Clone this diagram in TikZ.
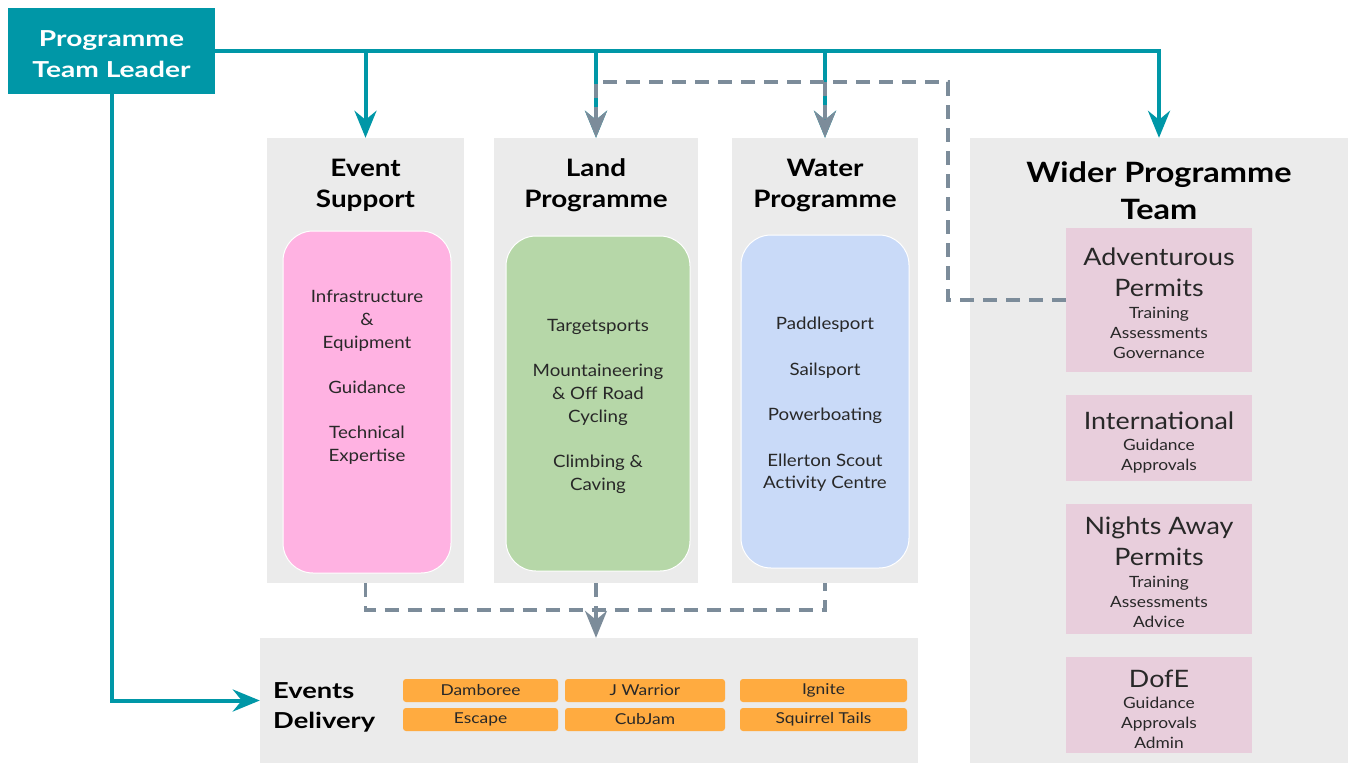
\documentclass[tikz,border=0pt]{standalone}
\usepackage{fontspec}
\setmainfont{Lato}
\newfontfamily\listfont{Lato}[FakeStretch=1.1]
\newfontfamily\headfont{Lato}[FakeStretch=1.16]
\newfontfamily\leadfont{Lato}[FakeStretch=1.28]
\newfontfamily\deliveryfont{Lato}[FakeStretch=1.24]
\newfontfamily\orangefont{Lato}[FakeStretch=1.16]
\newfontfamily\permitfont{Lato}[FakeStretch=1.12]
\usetikzlibrary{arrows.meta,positioning}

\definecolor{leadteal}{RGB}{0,151,167}
\definecolor{linkgrey}{RGB}{124,140,154}
\definecolor{panelgrey}{RGB}{235,235,235}
\definecolor{eventpink}{RGB}{255,178,226}
\definecolor{landgreen}{RGB}{182,215,168}
\definecolor{waterblue}{RGB}{201,218,248}
\definecolor{widermauve}{RGB}{232,206,220}
\definecolor{eventorange}{RGB}{255,171,64}
\definecolor{inktext}{RGB}{40,40,40}

\tikzset{
	panel/.style={fill=panelgrey, inner sep=0pt},
	teambox/.style={rounded corners=30pt, draw=white, line width=1pt, inner sep=0pt},
	permitbox/.style={fill=widermauve, inner sep=0pt, minimum width=186pt},
	eventbox/.style={fill=eventorange, rounded corners=3pt, inner sep=0pt, minimum height=23pt,
		font=\orangefont\fontsize{15}{18}\selectfont, text=inktext},
	heading/.style={align=center, yshift=-2pt, font=\headfont\bfseries\fontsize{24}{31}\selectfont},
	listtext/.style={align=center, yshift=-2pt, text=inktext, font=\listfont\fontsize{17}{22.7}\selectfont},
	bigtext/.style={align=center, yshift=-1pt, text=inktext, font=\permitfont\fontsize{24}{31}\selectfont},
	smalltext/.style={align=center, yshift=-1pt, text=inktext, font=\permitfont\fontsize{15.5}{20}\selectfont},
	tealline/.style={draw=leadteal, line width=4pt, -{Stealth[length=27pt,width=22pt,inset=9pt]}},
	greyline/.style={draw=linkgrey, line width=3.5pt, dash pattern=on 14pt off 9pt},
	greyarrow/.style={greyline, -{Stealth[length=27pt,width=22pt,inset=9pt]}}
}

\begin{document}
\begin{tikzpicture}[x=1pt,y=-1pt]
	\useasboundingbox (0,0) rectangle (1354,763);
	\node[panel, minimum width=197pt, minimum height=445pt] (es) at (365.5,360.5) {};
	\node[panel, minimum width=204pt, minimum height=445pt] (land) at (596,360.5) {};
	\node[panel, minimum width=186pt, minimum height=445pt] (water) at (825,360.5) {};
	\node[panel, minimum width=378pt, minimum height=625pt] (wider) at (1159,450.5) {};
	\node[panel, minimum width=658pt, minimum height=125pt] (ev) at (589,700.5) {};
	\node[fill=leadteal, inner sep=0pt, minimum width=207pt, minimum height=86pt] (lead) at (111.5,51) {};
	\node[heading, text=white, font=\leadfont\bfseries\fontsize{22}{31}\selectfont] at (111.5,52) {Programme\\Team Leader};

	\node[heading] (estitle) at (365.5,183.5) {Event\\Support};
	\node[heading] (landtitle) at (596,183.5) {Land\\Programme};
	\node[heading] (watertitle) at (825,183.5) {Water\\Programme};
	\node[heading, font=\headfont\bfseries\fontsize{28}{37}\selectfont] (widertitle) at (1159,188.5) {Wider Programme\\Team};
	\node[heading, align=left, anchor=west, inner sep=0pt, font=\deliveryfont\bfseries\fontsize{22}{30}\selectfont] (evtitle) at (273,705) {Events\\Delivery};

	\node[teambox, fill=eventpink, minimum width=168pt, minimum height=342pt] (espink) at (367,402) {};
	\node[teambox, fill=landgreen, minimum width=184pt, minimum height=335pt] (landgreen) at (598,403.5) {};
	\node[teambox, fill=waterblue, minimum width=168pt, minimum height=333pt] (waterblue) at (825,401.5) {};
	\node[listtext] at (367,375.5) {Infrastructure\\\&\\Equipment\\[22.7pt]Guidance\\[22.7pt]Technical\\Expertise};
	\node[listtext] at (598,404.5) {Targetsports\\[22.7pt]Mountaineering\\\& Off Road\\Cycling\\[22.7pt]Climbing \&\\Caving};
	\node[listtext] at (825,402.5) {Paddlesport\\[22.7pt]Sailsport\\[22.7pt]Powerboating\\[22.7pt]Ellerton Scout\\Activity Centre};

	\node[eventbox, minimum width=155pt] (damboree) at (480.5,690.5) {Damboree};
	\node[eventbox, minimum width=160pt] (jwarrior) at (645,690.5) {J Warrior};
	\node[eventbox, minimum width=167pt] (ignite) at (823.5,690.5) {Ignite};
	\node[eventbox, minimum width=155pt] (escape) at (480.5,719.5) {Escape};
	\node[eventbox, minimum width=160pt] (cubjam) at (645,719.5) {CubJam};
	\node[eventbox, minimum width=167pt] (squirrel) at (823.5,719.5) {Squirrel Tails};

	\node[permitbox, minimum height=144pt] (adv) at (1159,300) {};
	\node[permitbox, minimum height=86pt] (intl) at (1159,438) {};
	\node[permitbox, minimum height=130pt] (nights) at (1159,569) {};
	\node[permitbox, minimum height=96pt] (dofe) at (1159,705) {};
	\node[bigtext] at (1159,271.5) {Adventurous\\Permits};
	\node[smalltext] at (1159,332) {Training\\Assessments\\Governance};
	\node[bigtext] at (1159,420) {International};
	\node[smalltext] at (1159,455) {Guidance\\Approvals};
	\node[bigtext] at (1159,540.5) {Nights Away\\Permits};
	\node[smalltext] at (1159,601) {Training\\Assessments\\Advice};
	\node[bigtext] at (1159,678) {DofE};
	\node[smalltext] at (1159,722) {Guidance\\Approvals\\Admin};

	% leader lines
	\draw[tealline] (lead.east) -| (wider.north);
	\draw[tealline] (lead.east -| es.north) -- (es.north);
	\draw[tealline] (lead.east -| land.north) -- (land.north);
	\draw[tealline] (lead.east -| water.north) -- (water.north);
	\draw[tealline] (lead.south) |- (ev.west);

	% dashed links
	\coordinate (advbend) at (948,82);
	\draw[greyarrow] (adv.west) -| (advbend) -| (land.north);
	\draw[greyarrow] (advbend -| water.north) -- (water.north);
	\draw[greyline] (es.south) -- ++(0,27) -| (water.south);
	\draw[greyarrow] (land.south) -- (land.south |- ev.north);
\end{tikzpicture}
\end{document}
